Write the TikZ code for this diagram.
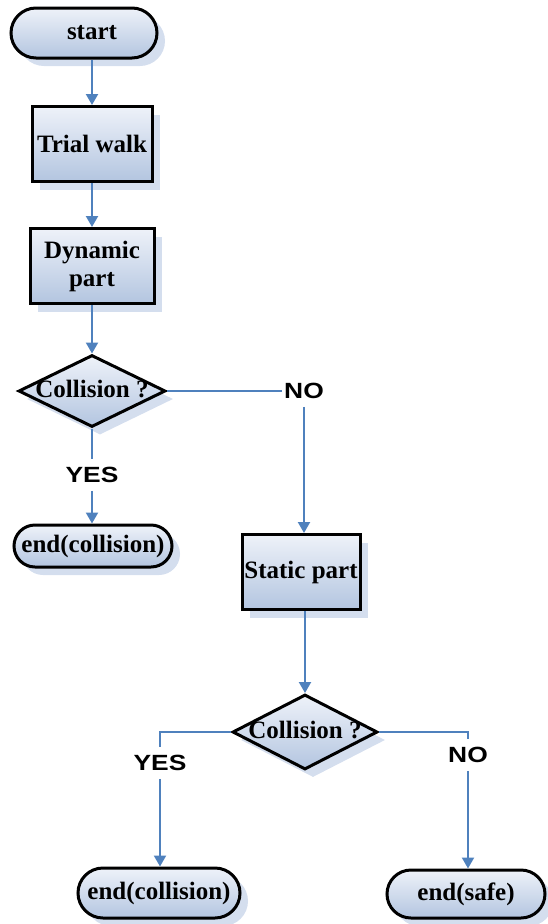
\documentclass[tikz,border=0pt]{standalone}
\usepackage{fontspec}
\setmainfont{Liberation Serif}
\newfontfamily\labelfont{Liberation Sans}
\usetikzlibrary{shapes.geometric,shapes.misc,shadows,arrows.meta}
\definecolor{linkblue}{HTML}{4F81BD}
\definecolor{boxtop}{HTML}{EEF2F9}
\definecolor{boxbottom}{HTML}{B3C5E0}
\definecolor{shadowblue}{HTML}{CFDAEC}
\tikzset{
  flowbox/.style={draw=black, line width=3pt, top color=boxtop, bottom color=boxbottom,
    font=\fontsize{25}{28}\selectfont\bfseries, align=center, inner sep=0pt,
    drop shadow={shadow xshift=8pt, shadow yshift=-8pt, fill=shadowblue, opacity=0.9}},
  procbox/.style={flowbox, rectangle},
  termbox/.style={flowbox, rounded rectangle},
  decision/.style={flowbox, diamond},
  branchlabel/.style={font=\labelfont\fontsize{22}{25}\selectfont\bfseries, inner xsep=2pt, inner ysep=8pt},
  link/.style={draw=linkblue, line width=2.2pt},
  arrowlink/.style={link, -{Triangle[width=12pt,length=11pt]}},
}
\newcommand{\wide}[1]{\scalebox{1.2}[1]{#1}}
\begin{document}
\begin{tikzpicture}[x=1pt,y=-1pt]
  \useasboundingbox (0,0) rectangle (547,924);
  % main column
  \node[termbox, minimum width=146pt, minimum height=50pt] (start) at (84,33) {\hspace*{16pt}start};
  \node[procbox, minimum width=120pt, minimum height=75pt] (trial) at (92,144) {Trial walk};
  \node[procbox, minimum width=124pt, minimum height=75pt] (dyn) at (92,266) {Dynamic\\part};
  \node[decision, minimum width=147pt, minimum height=72pt] (d1) at (92,391) {};
  \node[font=\fontsize{25}{28}\selectfont\bfseries] (d1t) at (92,389) {Collision ?};
  \node[branchlabel] (yes1) at (92,475) {\wide{YES}};
  \node[termbox, minimum width=158pt, minimum height=42pt] (end1) at (93,546) {end(collision)};
  \node[branchlabel] (no1) at (304,391) {\wide{NO}};
  % static branch
  \node[procbox, minimum width=118pt, minimum height=75pt] (static) at (301,572) {Static part};
  \node[decision, minimum width=145pt, minimum height=75pt] (d2) at (305,732) {};
  \node[font=\fontsize{25}{28}\selectfont\bfseries] (d2t) at (305,730) {Collision ?};
  \node[branchlabel] (yes2) at (160,763) {\wide{YES}};
  \node[branchlabel] (no2) at (468,755) {\wide{NO}};
  \node[termbox, minimum width=162pt, minimum height=50pt] (end2) at (159,893) {end(collision)};
  \node[termbox, minimum width=158pt, minimum height=48pt] (safe) at (466,894) {end(safe)};

  % connectors
  \draw[arrowlink] (start.south -| trial.north) -- (trial.north);
  \draw[arrowlink] (trial.south) -- (dyn.north);
  \draw[arrowlink] (dyn.south) -- (d1.north);
  \draw[link] (d1.south) -- (yes1.north);
  \draw[arrowlink] (yes1.south) -- (yes1.south |- end1.north);
  \draw[link] (d1.east) -- (no1.west);
  \draw[arrowlink] (no1.south) -- (no1.south |- static.north);
  \draw[arrowlink] (static.south -| d2.north) -- (d2.north);
  \draw[link] (d2.west) -- (d2.west -| yes2.north) -- (yes2.north);
  \draw[arrowlink] (yes2.south) -- (yes2.south |- end2.north);
  \draw[link] (d2.east) -- (d2.east -| no2.north) -- (no2.north);
  \draw[arrowlink] (no2.south) -- (no2.south |- safe.north);
\end{tikzpicture}
\end{document}
